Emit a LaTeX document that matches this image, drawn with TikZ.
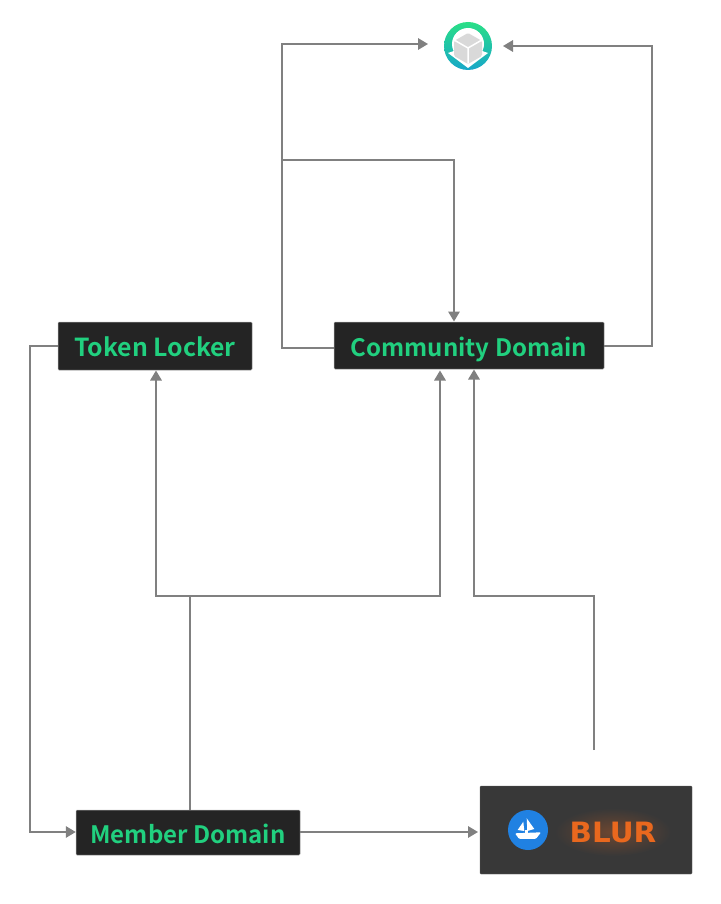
\documentclass[tikz,border=0pt]{standalone}
\usepackage{fontspec}
\setmainfont{Noto Sans CJK SC}[BoldFont={* Bold}]
\newfontfamily\blurfont{DejaVu Sans}[BoldFont={* Bold},FakeStretch=1.05]
\usetikzlibrary{calc,arrows.meta,positioning}
\definecolor{nodebg}{HTML}{242424}
\definecolor{marketbg}{HTML}{383838}
\definecolor{labelgreen}{HTML}{21D07F}
\definecolor{linegray}{HTML}{808080}
\definecolor{seablue}{HTML}{2081E2}
\definecolor{blurorange}{HTML}{E9681E}
\definecolor{vaulttop}{HTML}{2ADF86}
\definecolor{vaultbottom}{HTML}{17A7C9}
\tikzset{
  domainbox/.style={draw=linegray!70,line width=.5pt,fill=nodebg,rectangle,rounded corners=1pt,inner sep=0pt,
    text=labelgreen,text height=21pt,text depth=0pt,font=\fontsize{24}{28}\selectfont\bfseries},
  flow/.style={draw=linegray,line width=1.7pt},
  flowto/.style={flow,-{Triangle[length=10pt,width=11.5pt]}}
}
\begin{document}
\begin{tikzpicture}[x=1pt,y=-1pt]
  \useasboundingbox (0,0) rectangle (720,904);

  \node [domainbox, minimum width=194pt, minimum height=48pt, font=\fontsize{24.8}{28}\selectfont\bfseries] at(155,346) (token) {Token Locker};
  \node [domainbox, minimum width=270pt, minimum height=47pt] at(469,345.5) (community) {Community Domain};
  \node [domainbox, minimum width=224pt, minimum height=45pt] at(188,832.5) (member) {Member Domain};
  \node [fill=marketbg, draw=marketbg!80, rectangle, rounded corners=1pt, minimum width=212pt, minimum height=88pt] at(586,830) (market) {};

  % storage icon
  \node [circle, draw=none, inner sep=0pt, minimum size=48pt, top color=vaulttop, bottom color=vaultbottom] at(468,46) (vault) {};
  \fill [white] ($(vault)+(0,-2)$) circle (16);
  \fill [white] ($(vault)+(-20,7)$) -- ($(vault)+(0,22)$) -- ($(vault)+(20,7)$) -- ($(vault)+(0,0)$) -- cycle;
  \fill [black!15, rounded corners=1.5pt] ($(vault)+(0,-13)$) -- ++(14,8) -- ++(0,15) -- ++(-14,8) -- ++(-14,-8) -- ++(0,-15) -- cycle;
  \draw [white, line width=1.5pt] ($(vault)+(0,2)$) -- ++(0,15) ($(vault)+(0,2)$) -- ++(13,-7.5) ($(vault)+(0,2)$) -- ++(-13,-7.5);

  % market logos
  \node [circle, fill=seablue, inner sep=0pt, minimum size=40pt] at(528,830) (sea) {};
  \fill [white] (523.3,821.7) -- (517.7,830) -- (524.3,831) -- cycle;
  \fill [white] (526.7,818.3) -- (534.3,829) -- (527.3,831) -- cycle;
  \fill [white] (525,830) rectangle (528,834);
  \fill [white, rounded corners=1pt] (515,833.3) -- (541,832.3) -- (536,838.8) -- (519,838.8) -- cycle;
  \shade [inner color=blurorange!30!marketbg, outer color=marketbg] (613,832) ellipse (58 and 24);
  \node [text=blurorange, font=\fontsize{28}{30}\blurfont\bfseries, inner sep=0pt] at(613,832) (blur) {BLUR};

  % connectors
  \coordinate (upleft) at (282,44);
  \coordinate (tap) at (282,160);
  \coordinate (upright) at (652,46);
  \coordinate (downleft) at (30,832);
  \coordinate (split) at (190,596);
  \coordinate (salefoot) at (594,750);
  \coordinate (salebend) at (594,596);

  \draw [flowto] (community.west |- 0,348) -| (upleft) -- (428,44);
  \draw [flowto] (tap) -| (454,321.5);
  \draw [flowto] (community.east |- 0,346) -| (upright) -- (503,46);
  \draw [flowto] (token.west) -| (downleft) -- (member.west |- downleft);
  \draw [flowto] (split |- member.north) -- (split) -| (156,370.5);
  \draw [flowto] (split) -| (440,370.5);
  \draw [flowto] (salefoot) -- (salebend) -| (474,369.5);
  \draw [flowto] (member.east |- downleft) -- (478,832);
\end{tikzpicture}
\end{document}
